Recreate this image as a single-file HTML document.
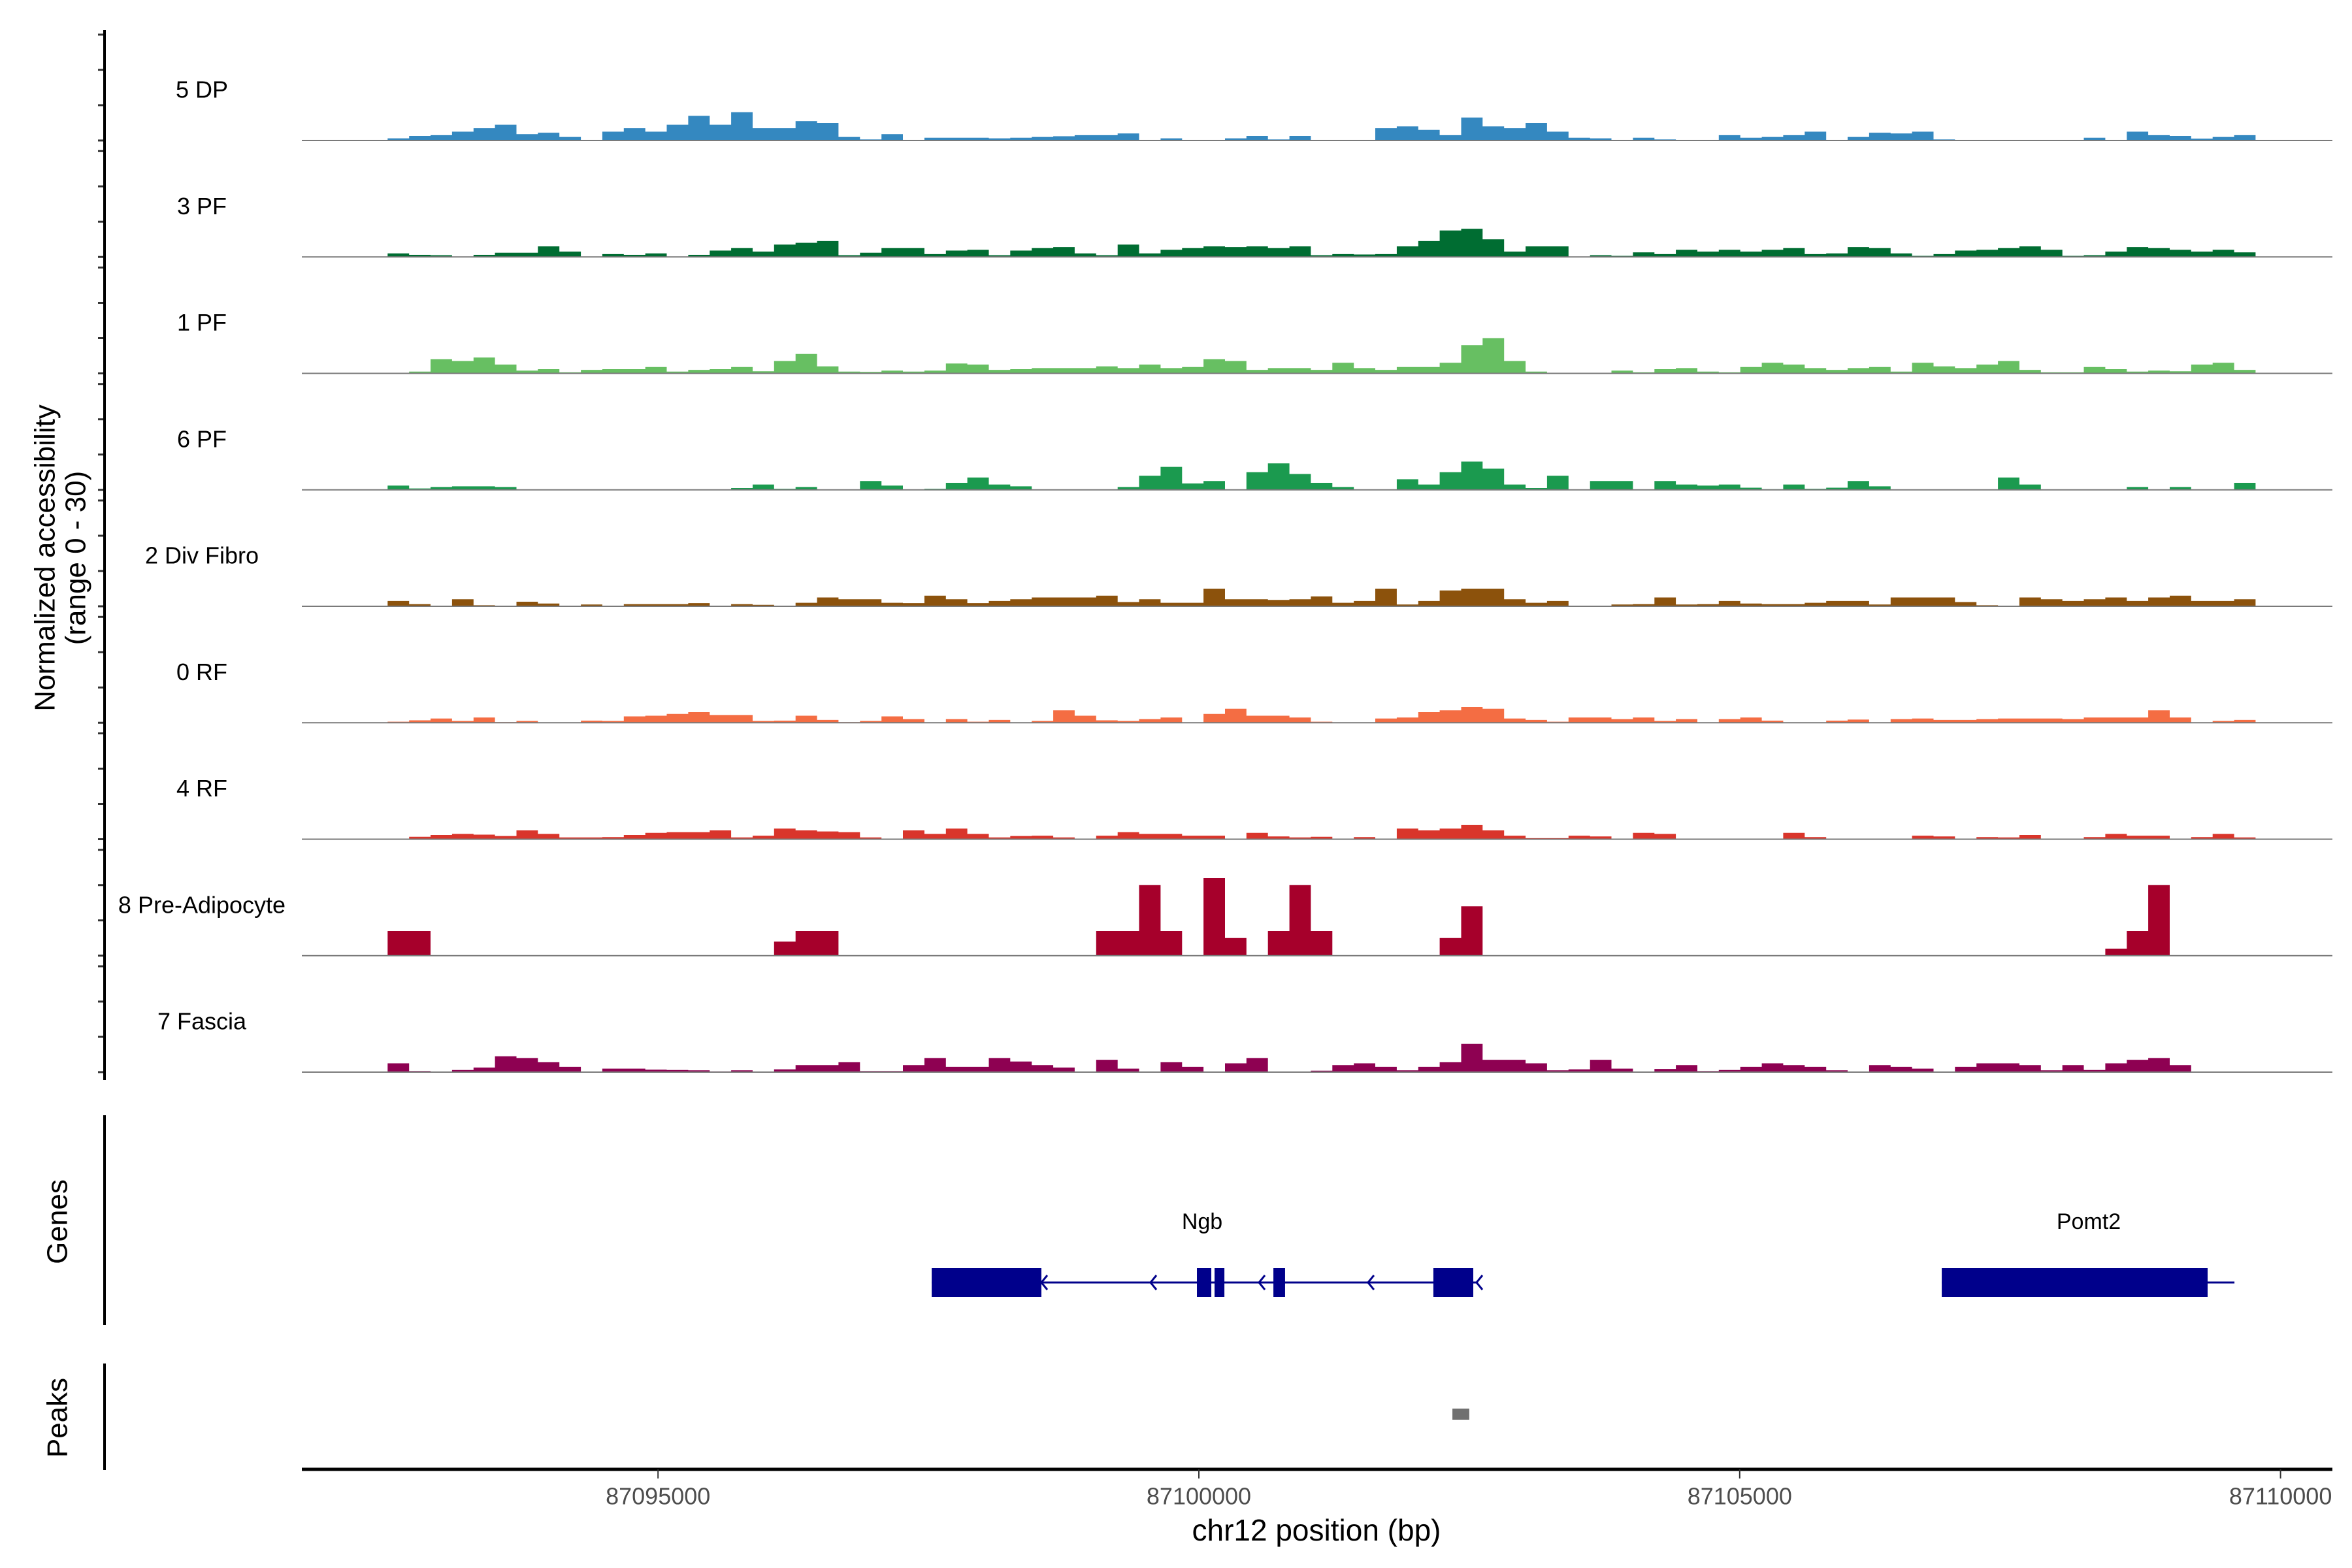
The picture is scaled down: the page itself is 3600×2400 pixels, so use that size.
<!DOCTYPE html>
<html><head><meta charset="utf-8"><style>
html,body{margin:0;padding:0;background:#fff;}
svg{display:block;font-family:"Liberation Sans",Arial,sans-serif;}
</style></head><body>
<svg id="chart" width="3600" height="2400" viewBox="0 0 3600 2400" xmlns="http://www.w3.org/2000/svg">
<rect width="3600" height="2400" fill="#fff"/>
<g id="tracks"></g>
<g id="yaxis"></g>
<text transform="translate(69,854) rotate(-90)" text-anchor="middle" dominant-baseline="central" font-size="44" fill="#000">Normalized accessibility</text>
<text transform="translate(116,854) rotate(-90)" text-anchor="middle" dominant-baseline="central" font-size="44" fill="#000">(range 0 - 30)</text>
<g id="genes"></g>
<line x1="160" y1="1707" x2="160" y2="2028" stroke="#000" stroke-width="4"/>
<text transform="translate(88,1870) rotate(-90)" text-anchor="middle" dominant-baseline="central" font-size="44" fill="#000">Genes</text>
<g id="peaks"></g>
<line x1="160" y1="2087" x2="160" y2="2250" stroke="#000" stroke-width="4"/>
<text transform="translate(88,2170) rotate(-90)" text-anchor="middle" dominant-baseline="central" font-size="44" fill="#000">Peaks</text>
<g id="xaxis"></g>
<text x="2015" y="2342" text-anchor="middle" dominant-baseline="central" font-size="46" fill="#000">chr12 position (bp)</text>
</svg>
<script>
// ---- data ----
const binStart = 87092500;
const binSize = 198.5;
const trackNames = ["5 DP","3 PF","1 PF","6 PF","2 Div Fibro","0 RF","4 RF","8 Pre-Adipocyte","7 Fascia"];
const trackColors = ["#3488c0","#006d32","#67bf62","#1b9a4f","#8c520c","#f46d43","#d9352b","#a6002b","#8e0152"];
const vDP5 = [0.6,1.3,1.5,2.5,3.5,4.5,1.8,2.2,1.0,0,2.5,3.5,2.5,4.5,7.0,4.5,8.0,3.5,3.5,5.5,5.0,1.0,0.3,1.8,0,0.8,0.8,0.8,0.6,0.8,1.0,1.2,1.5,1.5,2.0,0,0.6,0,0,0.6,1.3,0.3,1.3,0,0,0,3.5,4.0,3.0,1.5,6.5,4.0,3.5,5.0,2.5,0.8,0.6,0,0.8,0.3,0,0,1.5,0.8,1.0,1.5,2.5,0,1.0,2.2,2.0,2.5,0.3,0,0,0,0,0,0,0.8,0,2.5,1.5,1.3,0.5,1.0,1.5];
const vPF3 = [1.0,0.6,0.5,0,0.6,1.2,1.2,3.0,1.5,0,0.8,0.6,1.0,0,0.6,1.8,2.5,1.5,3.5,4.0,4.5,0.5,1.2,2.5,2.5,0.8,1.8,2.0,0.5,1.8,2.5,2.8,1.0,0.5,3.5,1.0,2.0,2.5,3.0,2.8,3.0,2.5,3.0,0.5,0.8,0.7,0.8,3.0,4.5,7.5,8.0,5.0,1.5,3.0,3.0,0,0.5,0.3,1.3,0.8,2.0,1.5,2.0,1.5,2.0,2.5,0.8,1.0,2.8,2.5,1.0,0.3,0.8,1.8,2.0,2.5,3.0,2.0,0.3,0.5,1.5,2.8,2.5,2.0,1.5,2.0,1.3];
const vPF1 = [0,0.5,4.0,3.5,4.5,2.5,0.8,1.2,0.3,1.0,1.2,1.2,1.8,0.5,1.0,1.2,1.8,0.6,3.5,5.5,2.0,0.5,0.4,0.8,0.5,0.8,2.8,2.5,1.0,1.2,1.5,1.5,1.5,2.0,1.5,2.5,1.5,1.8,4.0,3.5,1.0,1.5,1.5,1.0,3.0,1.5,1.0,1.8,1.8,3.0,8.0,10.0,3.5,0.5,0,0,0,0.8,0.3,1.2,1.5,0.5,0.3,1.8,3.0,2.5,1.5,1.0,1.5,1.8,0.5,3.0,2.0,1.5,2.5,3.5,1.0,0.3,0.3,1.8,1.2,0.5,0.8,0.6,2.5,3.0,1.0];
const vPF6 = [1.2,0.4,0.8,1.0,1.0,0.8,0,0,0,0,0,0,0,0,0,0,0.5,1.5,0.3,0.8,0,0,2.5,1.2,0,0.3,2.0,3.5,1.5,1.0,0,0,0,0,0.8,4.0,6.5,1.8,2.5,0,5.0,7.5,4.5,2.0,0.8,0,0,3.0,1.5,5.0,8.0,6.0,1.5,0.5,4.0,0,2.5,2.5,0,2.5,1.5,1.2,1.5,0.6,0.2,1.5,0.3,0.6,2.5,1.0,0,0,0,0,0,3.5,1.5,0,0,0,0,0.8,0,0.8,0,0,2.0];
const vDivFibro = [1.5,0.6,0,2.0,0.3,0,1.3,0.8,0,0.5,0,0.6,0.6,0.6,0.9,0,0.6,0.4,0,1.0,2.5,2.0,2.0,1.0,0.9,3.0,2.0,0.9,1.5,2.0,2.5,2.5,2.5,3.0,1.2,2.0,1.0,1.0,5.0,2.0,2.0,1.8,2.0,2.8,1.0,1.5,5.0,0.5,1.5,4.5,5.0,5.0,2.0,1.0,1.5,0,0,0.5,0.6,2.5,0.5,0.6,1.5,0.8,0.6,0.6,1.0,1.5,1.5,0.5,2.5,2.5,2.5,1.2,0.3,0,2.5,2.0,1.5,2.0,2.5,1.5,2.5,3.0,1.5,1.5,2.0];
const vRF0 = [0.3,0.7,1.2,0.5,1.5,0.2,0.5,0,0,0.6,0.5,1.8,2.0,2.5,3.0,2.2,2.2,0.5,0.6,2.0,0.8,0.2,0.5,1.8,1.0,0,1.0,0.3,0.8,0,0.5,3.5,2.0,0.7,0.5,1.0,1.5,0,2.5,4.0,2.0,2.0,1.5,0.3,0,0,1.2,1.5,3.0,3.5,4.5,4.0,1.2,0.8,0.3,1.5,1.5,1.0,1.5,0.5,1.0,0,1.0,1.5,0.6,0,0,0.6,0.9,0,1.0,1.2,0.8,0.8,1.0,1.2,1.2,1.2,1.0,1.5,1.5,1.5,3.5,1.5,0,0.5,0.8];
const vRF4 = [0,0.7,1.2,1.5,1.3,0.9,2.5,1.5,0.5,0.5,0.6,1.2,1.8,2.0,2.0,2.5,0.5,1.0,3.0,2.5,2.2,2.0,0.5,0,2.5,1.5,3.0,1.5,0.5,0.9,1.0,0.5,0,1.0,2.0,1.5,1.5,1.0,1.0,0,1.8,0.8,0.5,0.7,0,0.6,0,3.0,2.5,3.0,4.0,2.5,1.0,0.3,0.3,1.0,0.8,0,1.8,1.5,0,0,0,0,0,1.8,0.6,0,0,0,0,1.0,0.8,0,0.6,0.5,1.2,0,0,0.6,1.5,1.0,1.0,0,0.6,1.5,0.5];
const vPreAdipo = [7,7,0,0,0,0,0,0,0,0,0,0,0,0,0,0,0,0,4,7,7,0,0,0,0,0,0,0,0,0,0,0,0,7,7,20,7,0,22,5,0,7,20,7,0,0,0,0,0,5,14,0,0,0,0,0,0,0,0,0,0,0,0,0,0,0,0,0,0,0,0,0,0,0,0,0,0,0,0,0,2,7,20,0,0,0,0];
const vFascia = [2.5,0.3,0,0.6,1.3,4.5,4.0,2.8,1.5,0,1.0,1.0,0.7,0.6,0.5,0.2,0.5,0,0.8,2.0,2.0,2.8,0.3,0.3,2.0,4.0,1.5,1.5,4.0,3.0,2.0,1.3,0,3.5,1.0,0,2.8,1.5,0,2.5,4.0,0,0,0.4,2.0,2.5,1.5,0.5,1.5,2.8,8.0,3.5,3.5,2.5,0.5,0.8,3.5,1.0,0,0.9,2.0,0.3,0.6,1.5,2.5,2.0,1.5,0.5,0,2.0,1.5,1.0,0,1.5,2.5,2.5,2.0,0.5,2.0,0.6,2.5,3.5,4.0,2.0,0,0,0];
const trackValues = [vDP5,vPF3,vPF1,vPF6,vDivFibro,vRF0,vRF4,vPreAdipo,vFascia];
const xTicks = [87095000,87100000,87105000,87110000];
const xTickLabels = ["87095000","87100000","87105000","87110000"];
const yTicks = [0,10,20,30];
const ngbExonStarts = [87097530,87099982,87100145,87100689,87102168];
const ngbExonEnds   = [87098544,87100115,87100236,87100797,87102537];
const ngbLine = [87097530,87102579];
const ngbArrows = [87098544,87099553,87100556,87101564,87102567];
const pomt2ExonStarts = [87106868];
const pomt2ExonEnds = [87109326];
const pomt2Line = [87106868,87109574];
const peakStarts = [87102344];
const peakEnds = [87102500];

// ---- scales ----
const NS = "http://www.w3.org/2000/svg";
const plotLeft = 462, plotRight = 3570;
function xScale(bp){ return 1835 + (bp - 87100000) * 0.16556; }
const baseline0 = 215, trackStep = 178.25, trackH = 162;
function yScale(v, i){ return baseline0 + i*trackStep - v/30*trackH; }
function mk(tag, attrs, parent){ const e=document.createElementNS(NS,tag); for(const k in attrs) e.setAttribute(k, attrs[k]); parent.appendChild(e); return e; }

// ---- tracks ----
const gT = document.getElementById('tracks');
const gY = document.getElementById('yaxis');
trackNames.forEach((name, i) => {
  const vals = trackValues[i];
  const b = yScale(0, i);
  const g = mk('g', {}, gT);
  
  
  let pts = [];
  pts.push(xScale(binStart).toFixed(1) + ',' + b);
  vals.forEach((v, j) => {
    const x0 = xScale(binStart + j * binSize), x1 = xScale(binStart + (j + 1) * binSize);
    const y = yScale(v, i).toFixed(1);
    pts.push(x0.toFixed(1) + ',' + y);
    pts.push(x1.toFixed(1) + ',' + y);
  });
  pts.push(xScale(binStart + vals.length * binSize).toFixed(1) + ',' + b);
  const area = mk('polygon', {points: pts.join(' '), fill: trackColors[i]}, g);
  
  
  const bl = mk('line', {x1: plotLeft, x2: plotRight, y1: b, y2: b, stroke: '#7a7a7a', 'stroke-width': 2}, g);
  
  
  const lab = mk('text', {x: 309, y: b - 78, 'text-anchor': 'middle', 'dominant-baseline': 'central', 'font-size': 36, fill: '#000'}, g);
  lab.textContent = name;
  
  
  yTicks.forEach(t => {
    const y = yScale(t, i);
    const tk = mk('line', {x1: 150, x2: 160, y1: y, y2: y, stroke: '#333', 'stroke-width': 3}, gY);
    
    
  });
});
const yl = mk('line', {x1: 160, x2: 160, y1: 46, y2: 1653, stroke: '#000', 'stroke-width': 4}, gY);



// ---- genes ----
const gG = document.getElementById('genes');
const geneY = 1963, exH = 44, geneColor = '#00008b';
function drawGene(name, line, starts, ends, arrows, labelX){
  const g = mk('g', {}, gG);
  
  
  const ln = mk('line', {x1: xScale(line[0]), x2: xScale(line[1]), y1: geneY, y2: geneY, stroke: geneColor, 'stroke-width': 3}, g);
  
  
  starts.forEach((s, k) => {
    const r = mk('rect', {x: xScale(s), y: geneY - exH/2, width: xScale(ends[k]) - xScale(s), height: exH, fill: geneColor}, g);
    
    
  });
  arrows.forEach(a => {
    const x = xScale(a);
    const p = mk('polyline', {points: (x+9)+','+(geneY-11)+' '+x+','+geneY+' '+(x+9)+','+(geneY+11), fill: 'none', stroke: geneColor, 'stroke-width': 3}, g);
    
    
  });
  const t = mk('text', {x: labelX, y: 1870, 'text-anchor': 'middle', 'dominant-baseline': 'central', 'font-size': 34, fill: '#000'}, g);
  t.textContent = name;
  
  
}
drawGene('Ngb', ngbLine, ngbExonStarts, ngbExonEnds, ngbArrows, 1840);
drawGene('Pomt2', pomt2Line, pomt2ExonStarts, pomt2ExonEnds, [], 3197);

// ---- peaks ----
const gP = document.getElementById('peaks');
peakStarts.forEach((s, k) => {
  const r = mk('rect', {x: xScale(s), y: 2156, width: xScale(peakEnds[k]) - xScale(s), height: 17, fill: '#707070'}, gP);
  
  
});

// ---- x axis ----
const gX = document.getElementById('xaxis');
const xl = mk('line', {x1: plotLeft, x2: plotRight, y1: 2249, y2: 2249, stroke: '#000', 'stroke-width': 5}, gX);


xTicks.forEach((t, k) => {
  const x = xScale(t);
  const tk = mk('line', {x1: x, x2: x, y1: 2249, y2: 2263, stroke: '#333', 'stroke-width': 2}, gX);
  
  
  const tl = mk('text', {x: x, y: 2290, 'text-anchor': 'middle', 'dominant-baseline': 'central', 'font-size': 36, fill: '#4d4d4d'}, gX);
  tl.textContent = xTickLabels[k];
  
  
});
</script>
</body></html>
